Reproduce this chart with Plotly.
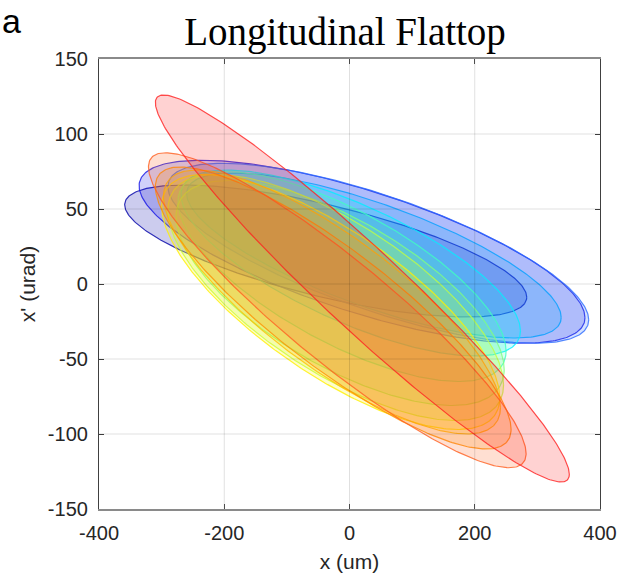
import numpy as np
import plotly.graph_objects as go

# Phase-space ellipses across the flattop, one per slice (jet-style colours)
colors = ["#0000A8", "#1414E6", "#2C6CFF", "#00A0FF", "#00F0FF", "#40FFC0", "#80FF80",
          "#C0FF40", "#FFF000", "#FFC000", "#FF9000", "#FF6020", "#FF2020"]
center_x = [-38, 20, 46, 39, 2, -12, -15, -22, -30, -28, -26, -19.5, 20.5]      # um
center_y = [22, 21.5, 20.5, 19, 14, 5, -6, -9, -12, -12, -16, -17.5, -3]        # urad
half_x = [321, 356, 336, 299, 271, 262, 262, 268, 270, 269, 284, 301.5, 330.5]  # um
half_y = [44, 61, 60, 55, 62, 70, 75, 82, 85, 88, 94, 105, 129]                 # urad
corr = [-0.70, -0.72, -0.74, -0.75, -0.73, -0.71, -0.68, -0.71, -0.75, -0.80, -0.86, -0.91, -0.96]

x_ticks = [-400, -200, 0, 200, 400]
y_ticks = [-150, -100, -50, 0, 50, 100, 150]
x_labels = ["-400", "-200", "0", "200", "400"]
y_labels = ["-150", "-100", "-50", "0", "50", "100", "150"]

def rgba(hex_color, alpha):
    h = hex_color.lstrip("#")
    r, g, b = int(h[0:2], 16), int(h[2:4], 16), int(h[4:6], 16)
    return f"rgba({r},{g},{b},{alpha})"

t = np.linspace(0, 2 * np.pi, 361)
fig = go.Figure()
for col, cx, cy, a, b, c in zip(colors, center_x, center_y, half_x, half_y, corr):
    phi = np.arccos(c)
    xs = cx + a * np.cos(t)
    ys = cy + b * np.cos(t - phi)
    fig.add_trace(go.Scatter(
        x=xs, y=ys, mode="lines", fill="toself",
        fillcolor=rgba(col, 0.2),
        line=dict(color=rgba(col, 0.8), width=1.2),
        hoverinfo="skip", showlegend=False,
    ))

# grid drawn over the translucent patches
grid_col = "rgba(0,0,0,0.12)"
for xv in x_ticks[1:-1]:
    fig.add_shape(type="line", x0=xv, x1=xv, y0=y_ticks[0], y1=y_ticks[-1],
                  xref="x", yref="y", line=dict(color=grid_col, width=1), layer="above")
for yv in y_ticks[1:-1]:
    fig.add_shape(type="line", x0=x_ticks[0], x1=x_ticks[-1], y0=yv, y1=yv,
                  xref="x", yref="y", line=dict(color=grid_col, width=1), layer="above")

tick_font = dict(family="Liberation Sans, Arial, sans-serif", size=20, color="#262626")
label_font = dict(family="Liberation Sans, Arial, sans-serif", size=21, color="#262626")

fig.update_layout(
    width=617, height=574,
    margin=dict(l=99, r=17, t=59, b=65),
    paper_bgcolor="white", plot_bgcolor="white",
    title=dict(text="Longitudinal Flattop", x=345 / 617, xanchor="center",
               y=1 - 31 / 574, yanchor="middle",
               font=dict(family="Liberation Serif, Times New Roman, serif", size=39, color="black")),
    xaxis=dict(range=[x_ticks[0], x_ticks[-1]], tickvals=x_ticks, ticktext=x_labels,
               showgrid=False, zeroline=False, showline=True, linecolor="#8a8a8a", linewidth=1.5,
               mirror="allticks", ticks="inside", ticklen=5, tickcolor="#555555",
               ticklabelstandoff=5, automargin=False,
               tickfont=tick_font, title=dict(text="x (um)", font=label_font, standoff=12)),
    yaxis=dict(range=[y_ticks[0], y_ticks[-1]], tickvals=y_ticks, ticktext=y_labels,
               showgrid=False, zeroline=False, showline=True, linecolor="#404040", linewidth=1.2,
               mirror="allticks", ticks="inside", ticklen=5, tickcolor="#404040",
               ticklabelstandoff=6, automargin=False,
               tickfont=tick_font, title=dict(text="x' (urad)", font=label_font, standoff=6)),
)

fig.add_annotation(text="a", xref="paper", yref="paper", x=-99 / 501, y=1 + 59 / 450,
                   xanchor="left", yanchor="top", xshift=0, yshift=0, showarrow=False,
                   font=dict(family="Liberation Sans, Arial, sans-serif", size=34, color="black"))

fig.write_html("out.html")
